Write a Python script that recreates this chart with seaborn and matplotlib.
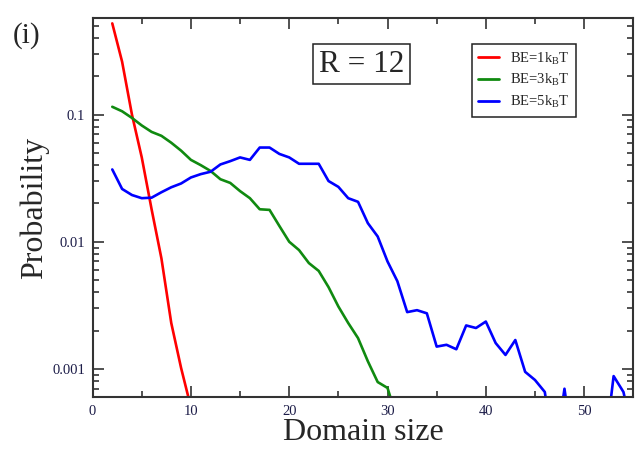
import numpy as np
import pandas as pd
import matplotlib
matplotlib.use("Agg")
import matplotlib.pyplot as plt
from matplotlib.ticker import MultipleLocator, LogLocator, NullFormatter
import seaborn as sns

# ---- data ----
x_be1 = [2, 3, 4, 5, 6, 7, 8, 9, 10]
p_be1 = [0.52, 0.26, 0.10, 0.046, 0.018, 0.0074, 0.0023, 0.00102, 0.0005]

x_be3 = list(range(2, 32))
p_be3 = [0.115, 0.106, 0.094, 0.082, 0.073, 0.068, 0.060, 0.052, 0.044, 0.040,
         0.036, 0.031, 0.029, 0.025, 0.022, 0.018, 0.0178, 0.0133, 0.010, 0.0086,
         0.0068, 0.0059, 0.0044, 0.0031, 0.0023, 0.00175, 0.00115, 0.00079, 0.00071,
         0.0004]

x_be5 = list(range(2, 56))
p_be5 = [0.037, 0.026, 0.0233, 0.022, 0.0222, 0.0245, 0.0268, 0.0287, 0.032, 0.034,
         0.0355, 0.0405, 0.043, 0.046, 0.044, 0.055, 0.055, 0.049, 0.046, 0.041,
         0.041, 0.041, 0.030, 0.027, 0.022, 0.0206, 0.014, 0.011, 0.007, 0.0049,
         0.0028, 0.0029, 0.00274, 0.0015, 0.00155, 0.00143, 0.0022, 0.0021, 0.00236,
         0.0016, 0.00129, 0.00169, 0.00095, 0.00082, 0.00066, 0.0002, 0.0007, 0.0002,
         0.0002, 0.0002, 0.0002, 0.00088, 0.00066, 0.0003]

labels = [r'BE=1k$_\mathrm{B}$T', r'BE=3k$_\mathrm{B}$T', r'BE=5k$_\mathrm{B}$T']
colors = ['#ff0000', '#108a10', '#0000ff']
ytick_vals = [0.001, 0.01, 0.1]
xtick_vals = [0, 10, 20, 30, 40, 50]

df = pd.concat([
    pd.DataFrame({'size': x_be1, 'prob': p_be1, 'series': labels[0]}),
    pd.DataFrame({'size': x_be3, 'prob': p_be3, 'series': labels[1]}),
    pd.DataFrame({'size': x_be5, 'prob': p_be5, 'series': labels[2]}),
], ignore_index=True)

# ---- style ----
sns.set_style('ticks')
plt.rcParams['font.family'] = ['Liberation Serif', 'DejaVu Serif']
plt.rcParams['mathtext.fontset'] = 'custom'
plt.rcParams['mathtext.rm'] = 'Liberation Serif'
plt.rcParams['mathtext.it'] = 'Liberation Serif:italic'

fig = plt.figure(figsize=(6.4, 4.51), dpi=100)
ax = fig.add_axes([0.1447, 0.1204, 0.8448, 0.8390])

sns.lineplot(data=df, x='size', y='prob', hue='series', hue_order=labels,
             palette=dict(zip(labels, colors)), linewidth=1.9, ax=ax,
             estimator=None, sort=False)

ax.set_yscale('log')
ax.set_xlim(0, 55)
ax.set_ylim(0.000606, 0.57)

ax.xaxis.set_minor_locator(MultipleLocator(5))
ax.set_xticks(xtick_vals)
ax.set_xticklabels([str(v) for v in xtick_vals])
ax.yaxis.set_minor_locator(LogLocator(base=10, subs=np.arange(2, 10), numticks=20))
ax.set_yticks(ytick_vals)
ax.set_yticklabels(['%g' % v for v in ytick_vals])
ax.yaxis.set_minor_formatter(NullFormatter())

tick_col = '#1c1c48'
ax.tick_params(which='both', direction='in', top=True, right=True,
               color='#222222', width=1.1)
ax.tick_params(which='major', length=8, labelsize=10.5, labelcolor=tick_col)
ax.tick_params(which='minor', length=4.2)
ax.tick_params(axis='y', which='major', pad=5.5)
ax.tick_params(axis='x', which='major', pad=6)
for s in ax.spines.values():
    s.set_linewidth(1.5)
    s.set_color('#333333')
    s.set_visible(True)

ax.set_xlabel('Domain size', fontsize=23, labelpad=0)
ax.set_ylabel('Probability', fontsize=23, labelpad=2)

leg = ax.legend(loc='upper left', bbox_to_anchor=(0.701, 0.932), fontsize=10.5,
                frameon=True, fancybox=False, edgecolor='#222222', framealpha=1,
                handlelength=1.45, handletextpad=0.75, borderpad=0.45,
                labelspacing=0.38, borderaxespad=0)
leg.get_frame().set_linewidth(1.1)
for line in leg.get_lines():
    line.set_linewidth(2.0)

ax.text(0.497, 0.879, 'R = 12', transform=ax.transAxes, fontsize=22.5,
        ha='center', va='center',
        bbox=dict(boxstyle='square,pad=0.18', fc='white', ec='#222222', lw=1.1))

fig.text(27 / 640, 1 - 36 / 451, '(i)', fontsize=21, ha='center', va='center')

fig.savefig('out.png', dpi=100)
